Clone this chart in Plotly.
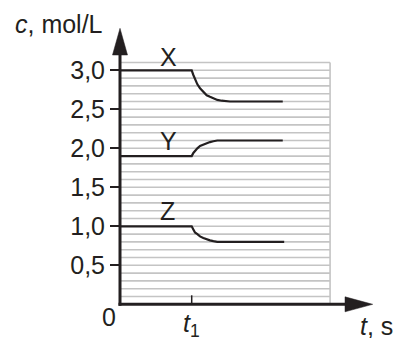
import plotly.graph_objects as go

# ---------------- data ----------------
t_flat = [0.0, 1.0]
t_curve = [1.0, 1.023, 1.046, 1.079, 1.116, 1.162, 1.209, 1.255, 1.302, 1.357, 1.418, 1.488, 1.534]
x_curve = [3.00, 2.94, 2.88, 2.82, 2.77, 2.72, 2.68, 2.66, 2.64, 2.62, 2.61, 2.60, 2.60]
y_curve = [1.90, 1.94, 1.97, 2.00, 2.03, 2.05, 2.07, 2.08, 2.09, 2.10, 2.10, 2.10, 2.10]
z_curve = [1.00, 0.96, 0.92, 0.90, 0.87, 0.85, 0.83, 0.82, 0.81, 0.80, 0.80, 0.80, 0.80]
t_end = {"X": 2.27, "Y": 2.27, "Z": 2.29}

series = {
    "X": ([3.0, 3.0], x_curve),
    "Y": ([1.9, 1.9], y_curve),
    "Z": ([1.0, 1.0], z_curve),
}
series_labels = ["X", "Y", "Z"]
label_pos = {"X": (0.68, 3.17), "Y": (0.675, 2.09), "Z": (0.66, 1.19)}

y_tickvals = [0.5, 1.0, 1.5, 2.0, 2.5, 3.0]
y_ticktext = ["0,5", "1,0", "1,5", "2,0", "2,5", "3,0"]
t1_value = 1.0

grid_step = 0.1
grid_top = 3.1
grid_right = 2.93

# ---------------- layout geometry ----------------
W, H = 397, 338
x0_px, px_per_t = 120, 71.7        # t = 0 position, px per unit t
y0_px, px_per_c = 304.3, 78.0      # c = 0 position (from top), px per unit c

x_range = [-x0_px / px_per_t, (W - x0_px) / px_per_t]
y_range = [-(H - y0_px) / px_per_c, y0_px / px_per_c]

FONT = "Liberation Sans, Arial, sans-serif"
FS = 25

fig = go.Figure()

# grid
shapes = []
n_grid = int(round(grid_top / grid_step))
for i in range(1, n_grid + 1):
    c = i * grid_step
    shapes.append(dict(type="line", xref="x", yref="y", x0=0, x1=grid_right, y0=c, y1=c,
                       line=dict(color="#c4c4c4", width=1.6), layer="below"))
shapes.append(dict(type="line", xref="x", yref="y", x0=grid_right, x1=grid_right, y0=0, y1=grid_top,
                   line=dict(color="#c4c4c4", width=1.6), layer="below"))

# curves
for name in series_labels:
    flat, curve = series[name]
    tt = t_flat + t_curve + [t_end[name]]
    cc = flat + curve + [curve[-1]]
    fig.add_trace(go.Scatter(x=tt, y=cc, mode="lines",
                             line=dict(color="#231f20", width=2.2),
                             hoverinfo="skip", showlegend=False, cliponaxis=False))

# axes (lines + arrowheads)
ax_col = "#231f20"
y_tip = (y0_px - 28.3) / px_per_c
y_base = (y0_px - 55) / px_per_c
x_tip = (372.7 - x0_px) / px_per_t
x_base = (345 - x0_px) / px_per_t
hw_t = 7.5 / px_per_t
hw_c = 7.5 / px_per_c
shapes.append(dict(type="line", xref="x", yref="y", x0=0, x1=0, y0=-1.5 / px_per_c, y1=y_base + 0.05,
                   line=dict(color=ax_col, width=3)))
shapes.append(dict(type="line", xref="x", yref="y", x0=-1.5 / px_per_t, x1=x_base + 0.05, y0=0, y1=0,
                   line=dict(color=ax_col, width=3)))
shapes.append(dict(type="path", xref="x", yref="y",
                   path=f"M {-hw_t} {y_base} L {hw_t} {y_base} L 0 {y_tip} Z",
                   fillcolor=ax_col, line=dict(color=ax_col, width=0.5)))
shapes.append(dict(type="path", xref="x", yref="y",
                   path=f"M {x_base} {-hw_c} L {x_base} {hw_c} L {x_tip} 0 Z",
                   fillcolor=ax_col, line=dict(color=ax_col, width=0.5)))
# t1 tick
shapes.append(dict(type="line", xref="x", yref="y", x0=t1_value, x1=t1_value, y0=0, y1=9 / px_per_c,
                   line=dict(color=ax_col, width=1.5)))

font = dict(family=FONT, size=FS, color=ax_col)
annotations = []
for name in series_labels:
    tx, cy = label_pos[name]
    annotations.append(dict(x=tx, y=cy, xref="x", yref="y", text=name, showarrow=False,
                            xanchor="center", yanchor="middle", font=font))
annotations.append(dict(x=13 / W, y=1 - 24.5 / H, xref="paper", yref="paper",
                        xanchor="left", yanchor="middle",
                        text="<i>c</i>, mol/L", showarrow=False, font=font))
annotations.append(dict(x=358 / W, y=1 - 326 / H, xref="paper", yref="paper",
                        xanchor="left", yanchor="middle",
                        text="<i>t</i>, s", showarrow=False, font=font))
annotations.append(dict(x=109.3 / W, y=1 - 316.7 / H, xref="paper", yref="paper",
                        xanchor="center", yanchor="middle",
                        text="0", showarrow=False, font=font))
annotations.append(dict(x=t1_value, y=1 - 325 / H, xref="x", yref="paper",
                        xanchor="center", yanchor="middle",
                        text="<i>t</i><sub>1</sub>", showarrow=False, font=font))

fig.update_layout(
    width=W, height=H,
    margin=dict(l=0, r=0, t=0, b=0, pad=0, autoexpand=False),
    paper_bgcolor="white", plot_bgcolor="white",
    shapes=shapes, annotations=annotations,
    xaxis=dict(range=x_range, domain=[0, 1], visible=False, fixedrange=True, automargin=False),
    yaxis=dict(range=y_range, domain=[0, 1], anchor="free", position=x0_px / W,
               showline=False, showgrid=False, zeroline=False, automargin=False,
               tickmode="array", tickvals=y_tickvals, ticktext=y_ticktext,
               ticks="outside", ticklen=10, tickwidth=1.5, tickcolor=ax_col,
               tickfont=font, fixedrange=True),
    showlegend=False,
)

fig.write_html("out.html",
               config={"displayModeBar": False},
               post_script="document.body.style.margin='0';document.body.style.padding='0';")
